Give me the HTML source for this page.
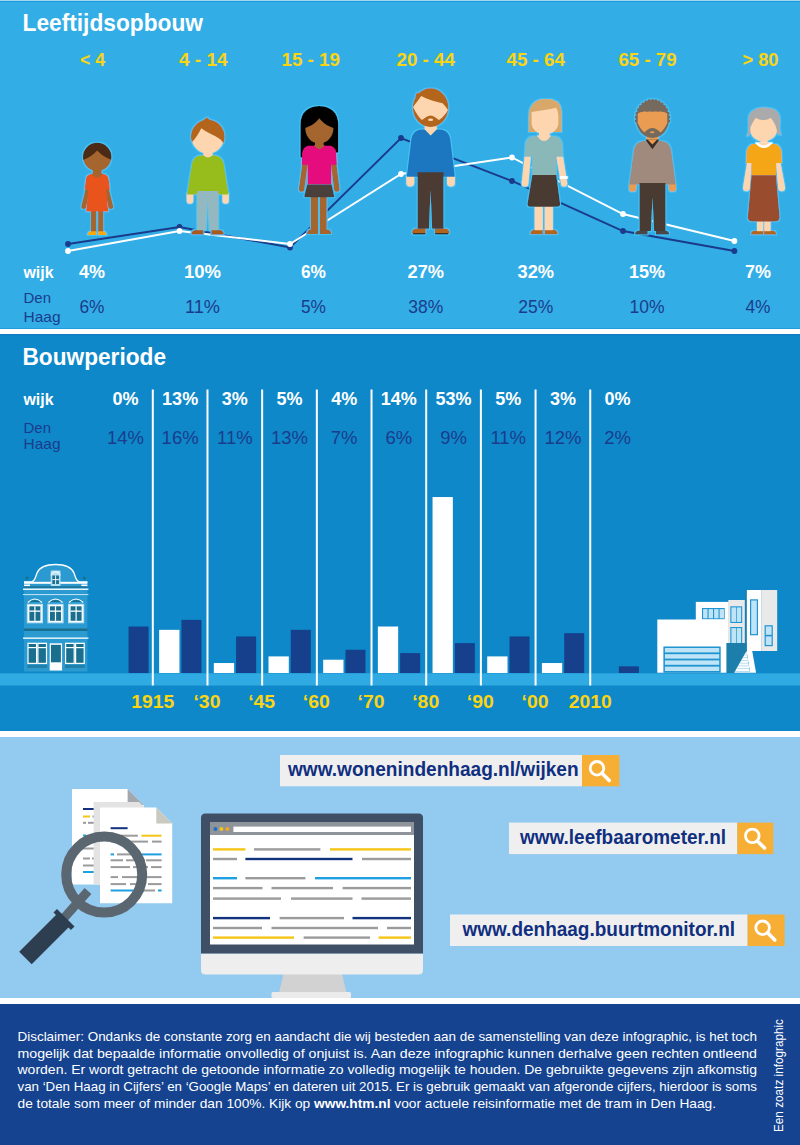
<!DOCTYPE html>
<html><head><meta charset="utf-8"><style>
html,body{margin:0;padding:0;background:#fff;}
body{width:800px;height:1145px;overflow:hidden;font-family:"Liberation Sans",sans-serif;}
svg{display:block;}
</style></head><body>
<svg width="800" height="1145" viewBox="0 0 800 1145">
<rect x="0" y="0" width="800" height="329" fill="#33ade6"/>
<rect x="0" y="0" width="800" height="1" fill="#9fd6f2"/>
<rect x="0" y="1" width="800" height="1" fill="#1d9bd8"/>
<rect x="0" y="328.2" width="800" height="1" fill="#1b9ad8"/>
<rect x="0" y="329" width="800" height="5.2" fill="#fff"/>
<rect x="0" y="334.2" width="800" height="397" fill="#0e88c9"/>
<rect x="0" y="334.2" width="800" height="1" fill="#0776bf"/>
<rect x="0" y="731" width="800" height="6" fill="#fff"/>
<rect x="0" y="737" width="800" height="261" fill="#93caf0"/>
<rect x="0" y="998" width="800" height="6" fill="#fff"/>
<rect x="0" y="1004" width="800" height="141" fill="#15438f"/>
<text x="22.5" y="30.6" font-size="23.5" fill="#fff" font-family="Liberation Sans, sans-serif" font-weight="bold" text-anchor="start" textLength="180.5" lengthAdjust="spacingAndGlyphs" >Leeftijdsopbouw</text>
<text x="80" y="66.2" font-size="18" fill="#fbd414" font-family="Liberation Sans, sans-serif" font-weight="bold" text-anchor="start" textLength="25" lengthAdjust="spacingAndGlyphs" >&lt; 4</text>
<text x="179" y="66.2" font-size="18" fill="#fbd414" font-family="Liberation Sans, sans-serif" font-weight="bold" text-anchor="start" textLength="48.5" lengthAdjust="spacingAndGlyphs" >4 - 14</text>
<text x="281.5" y="66.2" font-size="18" fill="#fbd414" font-family="Liberation Sans, sans-serif" font-weight="bold" text-anchor="start" textLength="58.5" lengthAdjust="spacingAndGlyphs" >15 - 19</text>
<text x="396.5" y="66.2" font-size="18" fill="#fbd414" font-family="Liberation Sans, sans-serif" font-weight="bold" text-anchor="start" textLength="58.5" lengthAdjust="spacingAndGlyphs" >20 - 44</text>
<text x="506.5" y="66.2" font-size="18" fill="#fbd414" font-family="Liberation Sans, sans-serif" font-weight="bold" text-anchor="start" textLength="58.5" lengthAdjust="spacingAndGlyphs" >45 - 64</text>
<text x="618.5" y="66.2" font-size="18" fill="#fbd414" font-family="Liberation Sans, sans-serif" font-weight="bold" text-anchor="start" textLength="58.0" lengthAdjust="spacingAndGlyphs" >65 - 79</text>
<text x="742.5" y="66.2" font-size="18" fill="#fbd414" font-family="Liberation Sans, sans-serif" font-weight="bold" text-anchor="start" textLength="36.0" lengthAdjust="spacingAndGlyphs" >&gt; 80</text>
<polyline points="68,244 179.5,227 290,247.5 401,138 512,181 623,231 734.4,251" fill="none" stroke="#1a3a8a" stroke-width="1.9"/>
<circle cx="68" cy="244" r="2.9" fill="#1a3a8a"/>
<circle cx="179.5" cy="227" r="2.9" fill="#1a3a8a"/>
<circle cx="290" cy="247.5" r="2.9" fill="#1a3a8a"/>
<circle cx="401" cy="138" r="2.9" fill="#1a3a8a"/>
<circle cx="512" cy="181" r="2.9" fill="#1a3a8a"/>
<circle cx="623" cy="231" r="2.9" fill="#1a3a8a"/>
<circle cx="734.4" cy="251" r="2.9" fill="#1a3a8a"/>
<polyline points="68,251 179.5,231 290,244 401,174 512,157.5 623,214 734.4,241" fill="none" stroke="#fff" stroke-width="1.9"/>
<circle cx="68" cy="251" r="2.9" fill="#fff"/>
<circle cx="179.5" cy="231" r="2.9" fill="#fff"/>
<circle cx="290" cy="244" r="2.9" fill="#fff"/>
<circle cx="401" cy="174" r="2.9" fill="#fff"/>
<circle cx="512" cy="157.5" r="2.9" fill="#fff"/>
<circle cx="623" cy="214" r="2.9" fill="#fff"/>
<circle cx="734.4" cy="241" r="2.9" fill="#fff"/>
<filter id="halo" x="-10%" y="-10%" width="120%" height="120%"><feMorphology in="SourceAlpha" operator="dilate" radius="1" result="d"/><feFlood flood-color="#42c2f5"/><feComposite in2="d" operator="in" result="h"/><feMerge><feMergeNode in="h"/><feMergeNode in="SourceGraphic"/></feMerge></filter>
<g id="people" filter="url(#halo)">
<rect x="90.9" y="208" width="5.40" height="24.00" rx="0" fill="#a4652d"/>
<rect x="98.1" y="208" width="5.20" height="24.00" rx="0" fill="#a4652d"/>
<path d="M96.3 231.2 L91.4 231.2 Q87.6 231.2 87.6 235 L96.3 235 Z" fill="#f6a80c"/>
<path d="M98.1 231.2 L102.69999999999999 231.2 Q106.5 231.2 106.5 235 L98.1 235 Z" fill="#f6a80c"/>
<path d="M85.5 189 L90 189 L86.2 206.5 A2.5 2.5 0 0 1 81.2 206.5 Z" fill="#a4652d"/>
<path d="M104.5 189 L109 189 L113.3 206.5 A2.5 2.5 0 0 1 108.3 206.5 Z" fill="#a4652d"/>
<rect x="92.8" y="166" width="8.80" height="12.00" rx="0" fill="#a4652d"/>
<path d="M84.6 189.4 L85.8 179.5 Q86.5 174 92 174 L102.5 174 Q108 174 108.7 179.5 L110 189.4 L106.2 189.4 L108.3 211.6 L86.1 211.6 L88.3 189.4 Z" fill="#e9531e"/>
<path d="M91.8 173.3 L102.6 173.3 L102.6 174 Q97.2 181 91.8 174 Z" fill="#a4652d"/>
<circle cx="97.2" cy="157" r="14.1" fill="#a4652d"/>
<clipPath id="hc1"><circle cx="97.2" cy="157" r="14.2"/></clipPath>
<path clip-path="url(#hc1)" d="M80 161 L80 140 L115 140 L115 161 Q104 158 97.2 150.5 Q90.5 158 80 161 Z" fill="#4b2a12"/>
<path d="M203.3 229.9 L196.0 229.9 Q191.4 229.9 191.4 234.5 L203.3 234.5 Z" fill="#a85a1e"/>
<path d="M211.3 229.9 L219.20000000000002 229.9 Q223.8 229.9 223.8 234.5 L211.3 234.5 Z" fill="#a85a1e"/>
<path d="M186.8 193 L193.2 193 L193.2 200.60000000000002 A3.1999999999999886 3.1999999999999886 0 0 1 186.8 200.60000000000002 Z" fill="#fdd5af"/>
<path d="M222.4 193 L228.8 193 L228.8 200.60000000000002 A3.200000000000003 3.200000000000003 0 0 1 222.4 200.60000000000002 Z" fill="#fdd5af"/>
<rect x="203.5" y="149" width="9.00" height="9.00" rx="0" fill="#fdd5af"/>
<path d="M187 194.4 L191.6 165.2 C192.4 158.7 197.1 155.2 201.6 155.2 L214.0 155.2 C218.5 155.2 223.2 158.7 224.0 165.2 L228.6 194.4 L218.5 194.4 L218.5 194.4 L218.5 194.4 L197 194.4 L197 194.4 Z" fill="#96bd1d"/>
<path d="M203.6 154.5 L212.4 154.5 L212.4 155.2 Q207.8 160 203.6 155.2 Z" fill="#fdd5af"/>
<path d="M197 191 L218.4 191 L218.4 230.2 L209.29999999999998 230.2 L207.7 198.4 L206.1 230.2 L197 230.2 Z" fill="#93b8bf"/>
<circle cx="207.8" cy="137.4" r="16" fill="#fdd5af"/>
<clipPath id="hc2"><circle cx="207.8" cy="136.6" r="16.9"/></clipPath>
<path clip-path="url(#hc2)" d="M188 143 L188 115 L228 115 L228 144 L223.4 143.5 C221 137 211 135.5 201.3 128.3 C199 133 196 138 191.8 142.3 Z" fill="#b4651e"/>
<path d="M202 121 L207 117.3 L210.5 120.5 Z" fill="#b4651e"/>
<path d="M300.4 157.5 L300.4 124.5 C300.4 112.5 308 106 319.3 106 C330.6 106 338.3 112.5 338.3 124.5 L338.3 152.5 Z" fill="#060505"/>
<rect x="310.8" y="196" width="7.30" height="36.00" rx="0" fill="#a4652d"/>
<rect x="320" y="196" width="6.70" height="36.00" rx="0" fill="#a4652d"/>
<path d="M318.1 229.6 L311.4 229.6 Q307 229.6 307 234 L318.1 234 Z" fill="#a4652d"/>
<path d="M320 229.6 L326.79999999999995 229.6 Q331.2 229.6 331.2 234 L320 234 Z" fill="#a4652d"/>
<path d="M302.2 164 L307.7 164 L304.4 188.9 A2.799999999999983 2.799999999999983 0 0 1 298.8 188.9 Z" fill="#a4652d"/>
<path d="M331 164 L336.5 164 L339.6 188.89999999999998 A2.8000000000000114 2.8000000000000114 0 0 1 334 188.89999999999998 Z" fill="#a4652d"/>
<rect x="315" y="139" width="8.60" height="9.00" rx="0" fill="#a4652d"/>
<path d="M301.6 164.8 L302.20000000000005 152.8 C303.00000000000006 148.25 306.05000000000007 145.8 309.20000000000005 145.8 L329.4 145.8 C332.54999999999995 145.8 335.59999999999997 148.25 336.4 152.8 L337 164.8 L331.4 164.8 L331.4 164.8 L331.4 164.8 L307.4 164.8 L307.4 164.8 Z" fill="#e5097e"/>
<rect x="307.4" y="163" width="24.00" height="21.60" rx="0" fill="#e5097e"/>
<path d="M314.2 145.1 L324.4 145.1 L324.4 145.8 Q319.3 152.5 314.2 145.8 Z" fill="#a4652d"/>
<path d="M307.2 184.4 L331.6 184.4 L334.2 196 Q334.4 197.3 333 197.3 L305.5 197.3 Q304 197.3 304.3 196 Z" fill="#4a3f3b"/>
<path d="M305.3 128 C312 126 316.5 122 319.3 118.3 C322.3 122 326.6 126 333.4 128 C333.4 137 327 143.4 319.3 143.4 C311.6 143.4 305.3 137 305.3 128 Z" fill="#a4652d"/>
<path d="M425.6 228.6 L416.8 228.6 Q411.8 228.6 411.8 233.6 L425.6 233.6 Z" fill="#b4651e"/>
<path d="M435 228.6 L444.5 228.6 Q449.5 228.6 449.5 233.6 L435 233.6 Z" fill="#b4651e"/>
<rect x="413" y="233" width="12.60" height="1.40" rx="0.5" fill="#3a302a"/>
<rect x="435" y="233" width="13.40" height="1.40" rx="0.5" fill="#3a302a"/>
<path d="M406.4 176 L414.2 176 L414.2 182.6 A3.9000000000000057 3.9000000000000057 0 0 1 406.4 182.6 Z" fill="#fdd5af"/>
<path d="M447 176 L454.9 176 L454.9 182.55 A3.9499999999999886 3.9499999999999886 0 0 1 447 182.55 Z" fill="#fdd5af"/>
<rect x="424.8" y="124" width="11.80" height="12.00" rx="0" fill="#fdd5af"/>
<path d="M406.8 176.8 L411.3 139.5 C412.1 133.0 416.8 129.5 421.3 129.5 L440.3 129.5 C444.8 129.5 449.5 133.0 450.3 139.5 L454.8 176.8 L443.5 176.8 L443.5 176.8 L443.5 176.8 L417.6 176.8 L417.6 176.8 Z" fill="#1e77c0"/>
<path d="M424.8 128.6 L436.6 128.6 L436.6 129.5 L430.6 135.6 L424.8 129.5 Z" fill="#fdd5af"/>
<path d="M417.6 172.3 L443.5 172.3 L443.5 228.8 L432.15000000000003 228.8 L430.55 190.3 L428.95 228.8 L417.6 228.8 Z" fill="#4b3b31"/>
<ellipse cx="430.6" cy="107.6" rx="17.8" ry="19.4" fill="#b4651e"/>
<clipPath id="hc3"><ellipse cx="430.6" cy="107.6" rx="17.8" ry="19.4"/></clipPath>
<path clip-path="url(#hc3)" d="M410 106.5 L413.1 107 C416 103 419 99 421.2 96 C428 99.5 436 102 442.5 103.2 C444.5 105 446.5 107.5 448 110 L452 110 L452 111 L448 110 C446 114 442 118 439 120.1 C436 118 433.5 115.5 430.6 115.4 C427.7 115.5 425 118 421.9 120.1 C418.5 117 415.5 112 413 107 Z" fill="#fdd5af"/>
<ellipse cx="430.6" cy="119.8" rx="2.6" ry="1.2" fill="#fdd5af"/>
<path d="M415 97 L417 92.5 L421 95 Z" fill="#b4651e"/>
<path d="M528.8 131.9 L528.8 116 C528.8 105 535.5 99 545 99 C552 99 556 100.5 558.5 103 C561 106 561.6 110 561.6 116 L561.6 131.9 Z" fill="#d8a86b"/>
<path d="M542.8 229.8 L534.9 229.8 Q530.4 229.8 530.4 234.3 L542.8 234.3 Z" fill="#b4651e"/>
<path d="M544.8 229.8 L553.2 229.8 Q557.7 229.8 557.7 234.3 L544.8 234.3 Z" fill="#b4651e"/>
<rect x="534.7" y="206" width="8.10" height="24.20" rx="0" fill="#fdd5af"/>
<rect x="544.8" y="206" width="8.10" height="24.20" rx="0" fill="#fdd5af"/>
<path d="M524.6 156.4 L530.8 156.4 L528.4 183.25000000000003 A3.349999999999966 3.349999999999966 0 0 1 521.7 183.25000000000003 Z" fill="#fdd5af"/>
<path d="M556.3 156.4 L563 156.4 L567.3 183.45000000000002 A3.1499999999999773 3.1499999999999773 0 0 1 561 183.45000000000002 Z" fill="#fdd5af"/>
<rect x="559.6" y="176" width="8.20" height="3.00" rx="1.3" fill="#ffffff"/>
<rect x="539" y="130" width="10.50" height="10.00" rx="0" fill="#fdd5af"/>
<path d="M524.6 156.4 L525.4 144.2 C526.1999999999999 139.0 529.8 136.2 533.4 136.2 L554.2 136.2 C557.8000000000001 136.2 561.4000000000001 139.0 562.2 144.2 L563 156.4 L556.3 156.4 L556.3 156.4 L556.3 156.4 L532.3 156.4 L532.3 156.4 Z" fill="#8ab8b9"/>
<rect x="532.3" y="155" width="24.00" height="20.80" rx="0" fill="#8ab8b9"/>
<path d="M537.5 135.5 L550.5 135.5 L550.5 136.2 Q544 146 537.5 136.2 Z" fill="#fdd5af"/>
<path d="M532.3 175.1 L556.3 175.1 L560.1 203.8 Q560.4 206.8 557 206.8 L530.6 206.8 Q527.2 206.8 527.5 203.8 Z" fill="#4a3a31"/>
<path d="M531.6 112 C540 111 549 109.5 556 107.8 C557.6 110 558.4 113 558.4 117 L558.4 123 C558.4 129.5 552.5 134 545 134 C537.5 134 531.6 129.5 531.6 123 Z" fill="#fdd5af"/>
<path d="M647.6 230.8 L638.8 230.8 Q635 230.8 635 234.6 L647.6 234.6 Z" fill="#48464a"/>
<path d="M656 230.8 L665.4000000000001 230.8 Q669.2 230.8 669.2 234.6 L656 234.6 Z" fill="#48464a"/>
<path d="M629 183.5 L636.2 183.5 L636.2 188.2 A3.6000000000000227 3.6000000000000227 0 0 1 629 188.2 Z" fill="#ea9c52"/>
<path d="M668.8 183.5 L676 183.5 L676 188.2 A3.6000000000000227 3.6000000000000227 0 0 1 668.8 188.2 Z" fill="#ea9c52"/>
<rect x="646.5" y="136" width="11.80" height="8.00" rx="0" fill="#ea9c52"/>
<path d="M629.2 184.4 L633.7 151 C634.5 144.5 639.2 141 643.7 141 L661.3 141 C665.8 141 670.5 144.5 671.3 151 L675.8 184.4 L665.4 184.4 L665.4 184.4 L665.4 184.4 L639.4 184.4 L639.4 184.4 Z" fill="#a08a7d"/>
<path d="M639.5 183 L665.5 183 L665.5 231 L654.1 231 L652.5 197.5 L650.9 231 L639.5 231 Z" fill="#4a3b32"/>
<path d="M645.3 139.6 L659.5 139.6 L652.4 149.2 Z" fill="#372d27"/>
<path d="M647.6 139.6 L657.2 139.6 L652.4 144.6 Z" fill="#ea9c52"/>
<ellipse cx="652.5" cy="119" rx="16.6" ry="19" fill="#76695d"/>
<circle cx="668.81" cy="120.97" r="1.5" fill="#76695d"/>
<circle cx="636.19" cy="120.97" r="1.5" fill="#76695d"/>
<circle cx="636.19" cy="117.03" r="1.5" fill="#76695d"/>
<circle cx="636.90" cy="113.19" r="1.5" fill="#76695d"/>
<circle cx="638.30" cy="109.60" r="1.5" fill="#76695d"/>
<circle cx="640.31" cy="106.42" r="1.5" fill="#76695d"/>
<circle cx="642.86" cy="103.79" r="1.5" fill="#76695d"/>
<circle cx="645.83" cy="101.83" r="1.5" fill="#76695d"/>
<circle cx="649.09" cy="100.61" r="1.5" fill="#76695d"/>
<circle cx="652.50" cy="100.20" r="1.5" fill="#76695d"/>
<circle cx="655.91" cy="100.61" r="1.5" fill="#76695d"/>
<circle cx="659.17" cy="101.83" r="1.5" fill="#76695d"/>
<circle cx="662.14" cy="103.79" r="1.5" fill="#76695d"/>
<circle cx="664.69" cy="106.42" r="1.5" fill="#76695d"/>
<circle cx="666.70" cy="109.60" r="1.5" fill="#76695d"/>
<circle cx="668.10" cy="113.19" r="1.5" fill="#76695d"/>
<circle cx="668.81" cy="117.03" r="1.5" fill="#76695d"/>
<clipPath id="hc4"><ellipse cx="652.5" cy="119" rx="16.6" ry="19"/></clipPath>
<path clip-path="url(#hc4)" d="M637.8 113.5 C640 111.5 643 112 645 111.2 C647 112.5 650 110.8 652.5 112 C655 110.8 658 112.5 660 111.2 C662 112 665 111.5 667.2 113.5 L667.3 123 C665.5 127 663.5 130 660.6 132.5 C658 130 655 128.1 652.3 128.1 C649.5 128.1 646.5 130 644.4 132.5 C641.5 130 639.5 127 637.7 123 Z" fill="#ea9c52"/>
<ellipse cx="652.3" cy="132.3" rx="2.3" ry="1" fill="#ea9c52"/>
<path d="M763.3 230.8 L754.6999999999999 230.8 Q750.9 230.8 750.9 234.6 L763.3 234.6 Z" fill="#b4651e"/>
<path d="M764.1 230.8 L772.4000000000001 230.8 Q776.2 230.8 776.2 234.6 L764.1 234.6 Z" fill="#b4651e"/>
<rect x="757" y="220" width="6.20" height="11.20" rx="0" fill="#fdd5af"/>
<rect x="764.3" y="220" width="6.20" height="11.20" rx="0" fill="#fdd5af"/>
<path d="M747 163 L751.5 163 L749.8 187.8 A3.3999999999999773 3.3999999999999773 0 0 1 743 187.8 Z" fill="#fdd5af"/>
<path d="M776 163 L780.5 163 L785.1 187.79999999999995 A3.400000000000034 3.400000000000034 0 0 1 778.3 187.79999999999995 Z" fill="#fdd5af"/>
<rect x="760.6" y="138" width="7.00" height="8.00" rx="0" fill="#fdd5af"/>
<path d="M746 163 L746.6 151.5 C747.4 146.625 750.725 144 754.1 144 L773.9 144 C777.275 144 780.6 146.625 781.4 151.5 L782 163 L776 163 L776 163 L776 163 L751.5 163 L751.5 163 Z" fill="#f5a618"/>
<rect x="751.5" y="161" width="24.50" height="14.60" rx="0" fill="#f5a618"/>
<path d="M755.2 142.5 L772.4 142.5 L772.4 143.2 Q764 153 755.2 143.2 Z" fill="#ffffff"/>
<path d="M758.6 142.5 L769 142.5 L769 143.2 Q764 148 758.6 143.2 Z" fill="#fdd5af"/>
<path d="M751.5 175.2 L776 175.2 L779.6 217 Q779.8 221.6 775 221.6 L752.4 221.6 Q747.6 221.6 747.8 217 Z" fill="#9a4e2d"/>
<path d="M746.6 136.3 C748.8 133.5 748.6 129 748.4 123 C748 116 750 112 753.5 110.5 C756 108.5 759 107.5 763.5 107.5 C769 107.5 774 108.5 777 111.5 C780.5 115 780.3 120 780 125 C779.8 129 780 132 781.3 134.8 C778.5 135.5 776.5 133 775.5 130 L751.5 130 C750.5 133.5 749 136.3 746.6 136.3 Z" fill="#aaaaaa"/>
<path d="M750.3 127.5 C752 124 754 120 756 117.8 C758 119.5 761 120.2 763.4 120 C766 120.2 768.5 119.5 770.6 117.8 C773.5 121 776 125.5 776.9 130.6 C776.5 136.5 771 141.3 763.6 141.3 C756 141.3 750.3 136 750.3 130 Z" fill="#fdd5af"/>
</g>
<text x="23.5" y="277.8" font-size="17" fill="#fff" font-family="Liberation Sans, sans-serif" font-weight="bold" text-anchor="start" textLength="30" lengthAdjust="spacingAndGlyphs" >wijk</text>
<text x="79" y="278" font-size="18.5" fill="#fff" font-family="Liberation Sans, sans-serif" font-weight="bold" text-anchor="start" textLength="26" lengthAdjust="spacingAndGlyphs" >4%</text>
<text x="184" y="278" font-size="18.5" fill="#fff" font-family="Liberation Sans, sans-serif" font-weight="bold" text-anchor="start" textLength="37" lengthAdjust="spacingAndGlyphs" >10%</text>
<text x="301" y="278" font-size="18.5" fill="#fff" font-family="Liberation Sans, sans-serif" font-weight="bold" text-anchor="start" textLength="25" lengthAdjust="spacingAndGlyphs" >6%</text>
<text x="407.5" y="278" font-size="18.5" fill="#fff" font-family="Liberation Sans, sans-serif" font-weight="bold" text-anchor="start" textLength="36.5" lengthAdjust="spacingAndGlyphs" >27%</text>
<text x="517.5" y="278" font-size="18.5" fill="#fff" font-family="Liberation Sans, sans-serif" font-weight="bold" text-anchor="start" textLength="36.5" lengthAdjust="spacingAndGlyphs" >32%</text>
<text x="629" y="278" font-size="18.5" fill="#fff" font-family="Liberation Sans, sans-serif" font-weight="bold" text-anchor="start" textLength="36" lengthAdjust="spacingAndGlyphs" >15%</text>
<text x="745" y="278" font-size="18.5" fill="#fff" font-family="Liberation Sans, sans-serif" font-weight="bold" text-anchor="start" textLength="26" lengthAdjust="spacingAndGlyphs" >7%</text>
<text x="23.5" y="303" font-size="15" fill="#1b3c8c" font-family="Liberation Sans, sans-serif" text-anchor="start" textLength="27.5" lengthAdjust="spacingAndGlyphs" >Den</text>
<text x="23.5" y="322" font-size="15" fill="#1b3c8c" font-family="Liberation Sans, sans-serif" text-anchor="start" textLength="37" lengthAdjust="spacingAndGlyphs" >Haag</text>
<text x="79.5" y="312.6" font-size="19" fill="#1b3c8c" font-family="Liberation Sans, sans-serif" text-anchor="start" textLength="25" lengthAdjust="spacingAndGlyphs" >6%</text>
<text x="185.0" y="312.6" font-size="19" fill="#1b3c8c" font-family="Liberation Sans, sans-serif" text-anchor="start" textLength="35" lengthAdjust="spacingAndGlyphs" >11%</text>
<text x="301.0" y="312.6" font-size="19" fill="#1b3c8c" font-family="Liberation Sans, sans-serif" text-anchor="start" textLength="25" lengthAdjust="spacingAndGlyphs" >5%</text>
<text x="408.25" y="312.6" font-size="19" fill="#1b3c8c" font-family="Liberation Sans, sans-serif" text-anchor="start" textLength="35" lengthAdjust="spacingAndGlyphs" >38%</text>
<text x="518.25" y="312.6" font-size="19" fill="#1b3c8c" font-family="Liberation Sans, sans-serif" text-anchor="start" textLength="35" lengthAdjust="spacingAndGlyphs" >25%</text>
<text x="629.5" y="312.6" font-size="19" fill="#1b3c8c" font-family="Liberation Sans, sans-serif" text-anchor="start" textLength="35" lengthAdjust="spacingAndGlyphs" >10%</text>
<text x="745.5" y="312.6" font-size="19" fill="#1b3c8c" font-family="Liberation Sans, sans-serif" text-anchor="start" textLength="25" lengthAdjust="spacingAndGlyphs" >4%</text>
<text x="22.5" y="365" font-size="23.5" fill="#fff" font-family="Liberation Sans, sans-serif" font-weight="bold" text-anchor="start" textLength="143.5" lengthAdjust="spacingAndGlyphs" >Bouwperiode</text>
<text x="23.5" y="405" font-size="17" fill="#fff" font-family="Liberation Sans, sans-serif" font-weight="bold" text-anchor="start" textLength="30" lengthAdjust="spacingAndGlyphs" >wijk</text>
<text x="23.5" y="433.25" font-size="15" fill="#1b3c8c" font-family="Liberation Sans, sans-serif" text-anchor="start" textLength="27.5" lengthAdjust="spacingAndGlyphs" >Den</text>
<text x="23.5" y="448.75" font-size="15" fill="#1b3c8c" font-family="Liberation Sans, sans-serif" text-anchor="start" textLength="37" lengthAdjust="spacingAndGlyphs" >Haag</text>
<text x="125.46000000000001" y="405" font-size="18" fill="#fff" font-family="Liberation Sans, sans-serif" font-weight="bold" text-anchor="middle" >0%</text>
<text x="125.46000000000001" y="444.25" font-size="18.5" fill="#1b3c8c" font-family="Liberation Sans, sans-serif" text-anchor="middle" >14%</text>
<rect x="128.56" y="626.52" width="20" height="46.48" fill="#163f8c"/>
<text x="180.14000000000001" y="405" font-size="18" fill="#fff" font-family="Liberation Sans, sans-serif" font-weight="bold" text-anchor="middle" >13%</text>
<text x="180.14000000000001" y="444.25" font-size="18.5" fill="#1b3c8c" font-family="Liberation Sans, sans-serif" text-anchor="middle" >16%</text>
<rect x="159.14" y="629.84" width="20.3" height="43.16" fill="#fff"/>
<rect x="181.44" y="619.88" width="20" height="53.12" fill="#163f8c"/>
<text x="234.82" y="405" font-size="18" fill="#fff" font-family="Liberation Sans, sans-serif" font-weight="bold" text-anchor="middle" >3%</text>
<text x="234.82" y="444.25" font-size="18.5" fill="#1b3c8c" font-family="Liberation Sans, sans-serif" text-anchor="middle" >11%</text>
<rect x="213.82" y="663.04" width="20.3" height="9.96" fill="#fff"/>
<rect x="236.12" y="636.48" width="20" height="36.52" fill="#163f8c"/>
<text x="289.5" y="405" font-size="18" fill="#fff" font-family="Liberation Sans, sans-serif" font-weight="bold" text-anchor="middle" >5%</text>
<text x="289.5" y="444.25" font-size="18.5" fill="#1b3c8c" font-family="Liberation Sans, sans-serif" text-anchor="middle" >13%</text>
<rect x="268.50" y="656.40" width="20.3" height="16.60" fill="#fff"/>
<rect x="290.80" y="629.84" width="20" height="43.16" fill="#163f8c"/>
<text x="344.18" y="405" font-size="18" fill="#fff" font-family="Liberation Sans, sans-serif" font-weight="bold" text-anchor="middle" >4%</text>
<text x="344.18" y="444.25" font-size="18.5" fill="#1b3c8c" font-family="Liberation Sans, sans-serif" text-anchor="middle" >7%</text>
<rect x="323.18" y="659.72" width="20.3" height="13.28" fill="#fff"/>
<rect x="345.48" y="649.76" width="20" height="23.24" fill="#163f8c"/>
<text x="398.86" y="405" font-size="18" fill="#fff" font-family="Liberation Sans, sans-serif" font-weight="bold" text-anchor="middle" >14%</text>
<text x="398.86" y="444.25" font-size="18.5" fill="#1b3c8c" font-family="Liberation Sans, sans-serif" text-anchor="middle" >6%</text>
<rect x="377.86" y="626.52" width="20.3" height="46.48" fill="#fff"/>
<rect x="400.16" y="653.08" width="20" height="19.92" fill="#163f8c"/>
<text x="453.53999999999996" y="405" font-size="18" fill="#fff" font-family="Liberation Sans, sans-serif" font-weight="bold" text-anchor="middle" >53%</text>
<text x="453.53999999999996" y="444.25" font-size="18.5" fill="#1b3c8c" font-family="Liberation Sans, sans-serif" text-anchor="middle" >9%</text>
<rect x="432.54" y="497.04" width="20.3" height="175.96" fill="#fff"/>
<rect x="454.84" y="643.12" width="20" height="29.88" fill="#163f8c"/>
<text x="508.22" y="405" font-size="18" fill="#fff" font-family="Liberation Sans, sans-serif" font-weight="bold" text-anchor="middle" >5%</text>
<text x="508.22" y="444.25" font-size="18.5" fill="#1b3c8c" font-family="Liberation Sans, sans-serif" text-anchor="middle" >11%</text>
<rect x="487.22" y="656.40" width="20.3" height="16.60" fill="#fff"/>
<rect x="509.52" y="636.48" width="20" height="36.52" fill="#163f8c"/>
<text x="562.9" y="405" font-size="18" fill="#fff" font-family="Liberation Sans, sans-serif" font-weight="bold" text-anchor="middle" >3%</text>
<text x="562.9" y="444.25" font-size="18.5" fill="#1b3c8c" font-family="Liberation Sans, sans-serif" text-anchor="middle" >12%</text>
<rect x="541.90" y="663.04" width="20.3" height="9.96" fill="#fff"/>
<rect x="564.20" y="633.16" width="20" height="39.84" fill="#163f8c"/>
<text x="617.58" y="405" font-size="18" fill="#fff" font-family="Liberation Sans, sans-serif" font-weight="bold" text-anchor="middle" >0%</text>
<text x="617.58" y="444.25" font-size="18.5" fill="#1b3c8c" font-family="Liberation Sans, sans-serif" text-anchor="middle" >2%</text>
<rect x="618.88" y="666.36" width="20" height="6.64" fill="#163f8c"/>
<rect x="0" y="673.3" width="800" height="12.2" fill="#30aae3"/>
<rect x="151.80" y="389.5" width="2" height="296" fill="#fff"/>
<rect x="206.48" y="389.5" width="2" height="296" fill="#fff"/>
<rect x="261.16" y="389.5" width="2" height="296" fill="#fff"/>
<rect x="315.84" y="389.5" width="2" height="296" fill="#fff"/>
<rect x="370.52" y="389.5" width="2" height="296" fill="#fff"/>
<rect x="425.20" y="389.5" width="2" height="296" fill="#fff"/>
<rect x="479.88" y="389.5" width="2" height="296" fill="#fff"/>
<rect x="534.56" y="389.5" width="2" height="296" fill="#fff"/>
<rect x="589.24" y="389.5" width="2" height="296" fill="#fff"/>
<text x="131.3" y="707.7" font-size="18" fill="#fbd414" font-family="Liberation Sans, sans-serif" font-weight="bold" text-anchor="start" textLength="43" lengthAdjust="spacingAndGlyphs" >1915</text>
<text x="193.48000000000002" y="707.7" font-size="18" fill="#fbd414" font-family="Liberation Sans, sans-serif" font-weight="bold" text-anchor="start" textLength="27" lengthAdjust="spacingAndGlyphs" >‘30</text>
<text x="248.16000000000003" y="707.7" font-size="18" fill="#fbd414" font-family="Liberation Sans, sans-serif" font-weight="bold" text-anchor="start" textLength="27" lengthAdjust="spacingAndGlyphs" >‘45</text>
<text x="302.84000000000003" y="707.7" font-size="18" fill="#fbd414" font-family="Liberation Sans, sans-serif" font-weight="bold" text-anchor="start" textLength="27" lengthAdjust="spacingAndGlyphs" >‘60</text>
<text x="357.52" y="707.7" font-size="18" fill="#fbd414" font-family="Liberation Sans, sans-serif" font-weight="bold" text-anchor="start" textLength="27" lengthAdjust="spacingAndGlyphs" >‘70</text>
<text x="412.2" y="707.7" font-size="18" fill="#fbd414" font-family="Liberation Sans, sans-serif" font-weight="bold" text-anchor="start" textLength="27" lengthAdjust="spacingAndGlyphs" >‘80</text>
<text x="466.88" y="707.7" font-size="18" fill="#fbd414" font-family="Liberation Sans, sans-serif" font-weight="bold" text-anchor="start" textLength="27" lengthAdjust="spacingAndGlyphs" >‘90</text>
<text x="521.56" y="707.7" font-size="18" fill="#fbd414" font-family="Liberation Sans, sans-serif" font-weight="bold" text-anchor="start" textLength="27" lengthAdjust="spacingAndGlyphs" >‘00</text>
<text x="568.74" y="707.7" font-size="18" fill="#fbd414" font-family="Liberation Sans, sans-serif" font-weight="bold" text-anchor="start" textLength="43" lengthAdjust="spacingAndGlyphs" >2010</text>
<g id="oldhouse">
<path d="M24 582 L31 582 C35 582 35.5 577 37 573 C40 566 47 564.5 55.6 564.5 C64 564.5 71 566 74 573 C75.5 577 76 582 80 582 L87.4 582 L87.4 671.6 L24 671.6 Z" fill="#2a9ad0"/>
<path d="M24 582 L31 582 C35 582 35.5 577 37 573 C40 566 47 564.5 55.6 564.5 C64 564.5 71 566 74 573 C75.5 577 76 582 80 582 L87.4 582" fill="none" stroke="#ffffff" stroke-width="1.3"/>
<circle cx="27" cy="578" r="1.6" fill="#1a6f8e"/><circle cx="84.3" cy="578" r="1.6" fill="#1a6f8e"/>
<rect x="24" y="581.8" width="63.4" height="2" fill="#ffffff"/>
<rect x="24" y="584.5" width="6" height="1.8" fill="#ffffff"/><rect x="81.4" y="584.5" width="6" height="1.8" fill="#ffffff"/>
<rect x="24" y="586.3" width="63.4" height="1.5" fill="#1a6f8e"/>
<rect x="23" y="588.6" width="65.4" height="1.3" fill="#ffffff"/>
<rect x="23" y="594" width="65.4" height="1.1" fill="#b8e0f5"/>
<rect x="50.7" y="570.5" width="9.8" height="15.5" rx="1" fill="#b8e0f5"/>
<path d="M50.7 575 Q55.6 568.5 60.5 575" fill="none" stroke="#ffffff" stroke-width="1"/>
<rect x="52.3" y="575.5" width="6.6" height="8.5" fill="#1a6f8e"/>
<rect x="55.2" y="575.5" width="0.9" height="8.5" fill="#ffffff"/><rect x="52.3" y="579.2" width="6.6" height="0.9" fill="#ffffff"/>
<path d="M27.8 602.5 Q34.9 595.5 42.0 602.5" fill="none" stroke="#ffffff" stroke-width="1.1"/>
<path d="M29.3 602 Q34.9 598 40.5 602 Z" fill="#1a6f8e"/>
<rect x="26.8" y="603.8" width="16.2" height="19.5" fill="#b8e0f5"/>
<rect x="28.1" y="605" width="13.6" height="17.1" fill="#ffffff"/>
<rect x="29.400000000000002" y="606.3" width="11.0" height="14.5" fill="#1a6f8e"/>
<rect x="34.3" y="606.3" width="1.2" height="14.5" fill="#ffffff"/>
<rect x="29.400000000000002" y="610.5" width="11.0" height="1.3" fill="#ffffff"/>
<path d="M48.4 602.5 Q55.5 595.5 62.599999999999994 602.5" fill="none" stroke="#ffffff" stroke-width="1.1"/>
<path d="M49.9 602 Q55.5 598 61.099999999999994 602 Z" fill="#1a6f8e"/>
<rect x="47.4" y="603.8" width="16.2" height="19.5" fill="#b8e0f5"/>
<rect x="48.699999999999996" y="605" width="13.6" height="17.1" fill="#ffffff"/>
<rect x="50.0" y="606.3" width="11.0" height="14.5" fill="#1a6f8e"/>
<rect x="54.9" y="606.3" width="1.2" height="14.5" fill="#ffffff"/>
<rect x="50.0" y="610.5" width="11.0" height="1.3" fill="#ffffff"/>
<path d="M69 602.5 Q76.1 595.5 83.2 602.5" fill="none" stroke="#ffffff" stroke-width="1.1"/>
<path d="M70.5 602 Q76.1 598 81.7 602 Z" fill="#1a6f8e"/>
<rect x="68" y="603.8" width="16.2" height="19.5" fill="#b8e0f5"/>
<rect x="69.3" y="605" width="13.6" height="17.1" fill="#ffffff"/>
<rect x="70.6" y="606.3" width="11.0" height="14.5" fill="#1a6f8e"/>
<rect x="75.5" y="606.3" width="1.2" height="14.5" fill="#ffffff"/>
<rect x="70.6" y="610.5" width="11.0" height="1.3" fill="#ffffff"/>
<rect x="24" y="628.5" width="63.4" height="2.5" fill="#1a6f8e"/>
<rect x="23" y="637.5" width="65.4" height="1.3" fill="#ffffff"/>
<rect x="27.4" y="642.7" width="9.8" height="21.3" fill="#ffffff"/>
<rect x="28.599999999999998" y="644" width="7.4" height="3" fill="#1a6f8e"/>
<rect x="28.599999999999998" y="648.2" width="7.4" height="14.6" fill="#1a6f8e"/>
<rect x="27.4" y="665" width="9.8" height="3" fill="#1a6f8e" opacity="0.6"/>
<rect x="37.3" y="642.7" width="9.8" height="21.3" fill="#ffffff"/>
<rect x="38.5" y="644" width="7.4" height="3" fill="#1a6f8e"/>
<rect x="38.5" y="648.2" width="7.4" height="14.6" fill="#1a6f8e"/>
<rect x="37.3" y="665" width="9.8" height="3" fill="#1a6f8e" opacity="0.6"/>
<rect x="65" y="642.7" width="9.8" height="21.3" fill="#ffffff"/>
<rect x="66.2" y="644" width="7.4" height="3" fill="#1a6f8e"/>
<rect x="66.2" y="648.2" width="7.4" height="14.6" fill="#1a6f8e"/>
<rect x="65" y="665" width="9.8" height="3" fill="#1a6f8e" opacity="0.6"/>
<rect x="75" y="642.7" width="9.8" height="21.3" fill="#ffffff"/>
<rect x="76.2" y="644" width="7.4" height="3" fill="#1a6f8e"/>
<rect x="76.2" y="648.2" width="7.4" height="14.6" fill="#1a6f8e"/>
<rect x="75" y="665" width="9.8" height="3" fill="#1a6f8e" opacity="0.6"/>
<rect x="49.7" y="643.3" width="12.4" height="27.2" fill="#ffffff"/>
<rect x="50.9" y="644.8" width="10" height="17.5" fill="#1a6f8e"/>
</g>
<g id="modern">
<rect x="746.6" y="590" width="15" height="61" fill="#ffffff"/>
<rect x="761.5" y="590" width="15.7" height="61" fill="#e9e9e9"/>
<path d="M745 590 L746.6 590 L746.6 651 L745 651 Z" fill="#1b7eab"/>
<rect x="750" y="599.3" width="8" height="36" fill="#1f95cf"/><rect x="751.2" y="600.5" width="5.6" height="33.6" fill="#bfe3f7"/>
<rect x="764.6" y="625.2" width="8.2" height="21" fill="#1f95cf"/><rect x="765.8" y="626.4" width="5.8" height="8.4" fill="#bfe3f7"/><rect x="765.8" y="636.4" width="5.8" height="8.6" fill="#bfe3f7"/>
<path d="M746.5 651 L752.2 651 L756.1 672.8 L750 672.8 Z" fill="#ffffff"/>
<rect x="695.8" y="601.9" width="33" height="42" fill="#ffffff"/>
<rect x="728.3" y="600" width="16.5" height="43" fill="#e9e9e9"/>
<rect x="702" y="608" width="22.7" height="11.4" fill="#1f95cf"/>
<rect x="703.10" y="609.1" width="4.4" height="9.2" fill="#bfe3f7"/>
<rect x="708.60" y="609.1" width="4.4" height="9.2" fill="#bfe3f7"/>
<rect x="714.10" y="609.1" width="4.4" height="9.2" fill="#bfe3f7"/>
<rect x="719.60" y="609.1" width="4.4" height="9.2" fill="#bfe3f7"/>
<rect x="730.3" y="606.3" width="11.9" height="16.7" fill="#1f95cf"/><rect x="731.4" y="607.4" width="4.6" height="14.5" fill="#bfe3f7"/><rect x="736.7" y="607.4" width="4.4" height="14.5" fill="#bfe3f7"/>
<rect x="730.3" y="627" width="11.9" height="16" fill="#1f95cf"/><rect x="731.4" y="628.1" width="4.6" height="14.9" fill="#bfe3f7"/><rect x="736.7" y="628.1" width="4.4" height="14.9" fill="#bfe3f7"/>
<path d="M726 643 L746.6 643 L746.5 651 L750 672.8 L726 672.8 Z" fill="#1b7eab"/>
<clipPath id="stc"><path d="M734.2 672.8 L746.5 651 L750 672.8 Z"/></clipPath>
<path d="M734.2 672.8 L746.5 651 L750 672.8 Z" fill="#ffffff"/>
<g clip-path="url(#stc)">
<rect x="730" y="654.50" width="22" height="0.8" fill="#a6d6ef"/>
<rect x="730" y="657.25" width="22" height="0.8" fill="#a6d6ef"/>
<rect x="730" y="660.00" width="22" height="0.8" fill="#a6d6ef"/>
<rect x="730" y="662.75" width="22" height="0.8" fill="#a6d6ef"/>
<rect x="730" y="665.50" width="22" height="0.8" fill="#a6d6ef"/>
<rect x="730" y="668.25" width="22" height="0.8" fill="#a6d6ef"/>
<rect x="730" y="671.00" width="22" height="0.8" fill="#a6d6ef"/>
</g>
<path d="M657.3 619.4 L724.5 619.4 Q726.4 619.4 726.4 621.4 L726.4 672.8 L657.3 672.8 Z" fill="#ffffff"/>
<rect x="663.4" y="646.5" width="57.3" height="26.3" fill="#1f95cf"/>
<rect x="664.9" y="648.00" width="54.3" height="4.4" fill="#bfe3f7"/>
<rect x="664.9" y="654.20" width="54.3" height="4.4" fill="#bfe3f7"/>
<rect x="664.9" y="660.40" width="54.3" height="4.4" fill="#bfe3f7"/>
<rect x="664.9" y="666.60" width="54.3" height="4.4" fill="#bfe3f7"/>
</g>
<path d="M72 789 L127.6 789 L143.6 805 L143.6 884.5 L72 884.5 Z" fill="#ffffff"/>
<path d="M127.6 789 L143.6 805 L127.6 805 Z" fill="#a3a8ae"/>
<rect x="83.0" y="808.00" width="15.5" height="2" fill="#12327e"/>
<rect x="83.0" y="815.50" width="7.0" height="2" fill="#f5c518"/>
<rect x="92.5" y="815.50" width="6.5" height="2" fill="#9b9b9b"/>
<rect x="83.0" y="821.80" width="3.0" height="2" fill="#9b9b9b"/>
<rect x="88.0" y="821.80" width="11.0" height="2" fill="#9b9b9b"/>
<rect x="83.0" y="834.50" width="3.0" height="2" fill="#1ea0e0"/>
<rect x="83.0" y="847.50" width="16.0" height="2" fill="#9b9b9b"/>
<rect x="83.0" y="857.50" width="7.0" height="2" fill="#9b9b9b"/>
<rect x="92.0" y="857.50" width="7.0" height="2" fill="#9b9b9b"/>
<rect x="83.0" y="864.50" width="15.0" height="2" fill="#9b9b9b"/>
<rect x="83.0" y="871.00" width="16.0" height="2" fill="#1ea0e0"/>
<path d="M93.6 802 L139 802 L144.6 807.6 L144.6 884.5 L93.6 884.5 Z" fill="#e3e3e3"/>
<path d="M100 807.6 L156.3 807.6 L172.2 823.5 L172.2 903.2 L100 903.2 Z" fill="#ffffff"/>
<path d="M156.3 807.6 L172.2 823.5 L156.3 823.5 Z" fill="#c9c9bf"/>
<rect x="110.6" y="827.20" width="17.0" height="2" fill="#12327e"/>
<rect x="121.2" y="834.70" width="16.6" height="2" fill="#9b9b9b"/>
<rect x="141.4" y="834.70" width="20.2" height="2" fill="#f5c518"/>
<rect x="110.6" y="840.60" width="5.4" height="2" fill="#9b9b9b"/>
<rect x="118.5" y="840.60" width="29.5" height="2" fill="#9b9b9b"/>
<rect x="152.0" y="840.60" width="9.6" height="2" fill="#9b9b9b"/>
<rect x="110.6" y="853.40" width="3.4" height="2" fill="#1ea0e0"/>
<rect x="117.0" y="853.40" width="23.0" height="2" fill="#9b9b9b"/>
<rect x="141.4" y="853.40" width="20.2" height="2" fill="#1ea0e0"/>
<rect x="110.6" y="859.30" width="12.4" height="2" fill="#9b9b9b"/>
<rect x="126.0" y="859.30" width="19.0" height="2" fill="#9b9b9b"/>
<rect x="146.0" y="859.30" width="15.6" height="2" fill="#9b9b9b"/>
<rect x="110.6" y="866.10" width="19.4" height="2" fill="#9b9b9b"/>
<rect x="133.0" y="866.10" width="15.0" height="2" fill="#9b9b9b"/>
<rect x="151.0" y="866.10" width="10.6" height="2" fill="#9b9b9b"/>
<rect x="110.6" y="876.10" width="7.4" height="2" fill="#9b9b9b"/>
<rect x="122.0" y="876.10" width="39.6" height="2" fill="#9b9b9b"/>
<rect x="110.6" y="883.10" width="15.4" height="2" fill="#9b9b9b"/>
<rect x="130.0" y="883.10" width="15.0" height="2" fill="#9b9b9b"/>
<rect x="148.0" y="883.10" width="13.6" height="2" fill="#9b9b9b"/>
<rect x="110.6" y="889.50" width="22.4" height="2" fill="#1ea0e0"/>
<rect x="134.0" y="889.50" width="21.0" height="2" fill="#9b9b9b"/>
<rect x="158.0" y="889.50" width="3.6" height="2" fill="#1ea0e0"/>
<line x1="88" y1="891" x2="64" y2="918" stroke="#5b6770" stroke-width="9"/>
<g transform="translate(65.75,917.75) rotate(135)">
<rect x="0" y="-12.35" width="5" height="24.7" fill="#2c3e50"/>
<rect x="4" y="-8.85" width="53" height="17.7" fill="#2c3e50"/>
</g>
<circle cx="104.2" cy="874.6" r="38" fill="none" stroke="#5b6770" stroke-width="10"/>
<path d="M283.5 974 L342 974 L346.5 993 L279 993 Z" fill="#d2d2d2"/>
<rect x="271.5" y="992" width="79.5" height="6" rx="1.5" fill="#ebebeb"/>
<path d="M201 953.5 L423 953.5 L423 970 Q423 974.5 418.5 974.5 L205.5 974.5 Q201 974.5 201 970 Z" fill="#eeeeee"/>
<path d="M201 953.5 L201 818 Q201 813.4 205.5 813.4 L418.5 813.4 Q423 813.4 423 818 L423 953.5 Z" fill="#3e4f66"/>
<rect x="210" y="822" width="204" height="122.5" fill="#ffffff"/>
<rect x="210" y="822" width="204" height="13" fill="#8f949b"/>
<circle cx="215.4" cy="829" r="2" fill="#1a73c9"/><circle cx="221.4" cy="829" r="2" fill="#f5c518"/><circle cx="227.4" cy="829" r="2" fill="#f5a623"/>
<rect x="233.4" y="826.6" width="177.6" height="5.4" fill="#ffffff"/>
<rect x="213.0" y="848.20" width="32.4" height="2.4" fill="#f5c518"/>
<rect x="254.0" y="848.20" width="66.4" height="2.4" fill="#9b9b9b"/>
<rect x="330.0" y="848.20" width="81.0" height="2.4" fill="#f5c518"/>
<rect x="213.0" y="857.80" width="24.0" height="2.4" fill="#9b9b9b"/>
<rect x="245.4" y="857.80" width="107.1" height="2.4" fill="#12327e"/>
<rect x="362.0" y="857.80" width="49.0" height="2.4" fill="#9b9b9b"/>
<rect x="213.0" y="877.00" width="24.0" height="2.4" fill="#1ea0e0"/>
<rect x="245.4" y="877.00" width="60.0" height="2.4" fill="#9b9b9b"/>
<rect x="315.0" y="877.00" width="96.0" height="2.4" fill="#1ea0e0"/>
<rect x="213.0" y="886.90" width="49.5" height="2.4" fill="#9b9b9b"/>
<rect x="271.5" y="886.90" width="61.5" height="2.4" fill="#9b9b9b"/>
<rect x="342.6" y="886.90" width="68.4" height="2.4" fill="#9b9b9b"/>
<rect x="213.0" y="897.40" width="68.0" height="2.4" fill="#9b9b9b"/>
<rect x="291.0" y="897.40" width="61.5" height="2.4" fill="#9b9b9b"/>
<rect x="361.5" y="897.40" width="49.5" height="2.4" fill="#9b9b9b"/>
<rect x="213.0" y="916.90" width="57.0" height="2.4" fill="#12327e"/>
<rect x="279.6" y="916.90" width="64.4" height="2.4" fill="#9b9b9b"/>
<rect x="352.5" y="916.90" width="58.5" height="2.4" fill="#12327e"/>
<rect x="213.0" y="926.80" width="49.0" height="2.4" fill="#9b9b9b"/>
<rect x="271.5" y="926.80" width="106.5" height="2.4" fill="#9b9b9b"/>
<rect x="387.0" y="926.80" width="24.0" height="2.4" fill="#9b9b9b"/>
<rect x="213.0" y="936.40" width="81.0" height="2.4" fill="#f5c518"/>
<rect x="303.6" y="936.40" width="66.4" height="2.4" fill="#9b9b9b"/>
<rect x="378.6" y="936.40" width="32.4" height="2.4" fill="#f5c518"/>
<rect x="280" y="755" width="302" height="31.299999999999955" fill="#efefef"/>
<rect x="582" y="755" width="37.39999999999998" height="31.299999999999955" fill="#f6ae35"/>
<circle cx="597" cy="768.3" r="6.8" fill="none" stroke="#fff" stroke-width="2.8"/>
<line x1="602" y1="773.3" x2="609.2" y2="780.5" stroke="#fff" stroke-width="3.6" stroke-linecap="round"/>
<text x="288" y="776.3" font-size="20" fill="#112f80" font-family="Liberation Sans, sans-serif" font-weight="bold" text-anchor="start" textLength="290.6" lengthAdjust="spacingAndGlyphs" >www.wonenindenhaag.nl/wijken</text>
<rect x="509" y="822.6" width="228.29999999999995" height="31.5" fill="#efefef"/>
<rect x="737.3" y="822.6" width="36.0" height="31.5" fill="#f6ae35"/>
<circle cx="752.3" cy="835.9" r="6.8" fill="none" stroke="#fff" stroke-width="2.8"/>
<line x1="757.3" y1="840.9" x2="764.5" y2="848.1" stroke="#fff" stroke-width="3.6" stroke-linecap="round"/>
<text x="520" y="843.9" font-size="20" fill="#112f80" font-family="Liberation Sans, sans-serif" font-weight="bold" text-anchor="start" textLength="206" lengthAdjust="spacingAndGlyphs" >www.leefbaarometer.nl</text>
<rect x="450" y="914.5" width="297.6" height="31.5" fill="#efefef"/>
<rect x="747.6" y="914.5" width="37.0" height="31.5" fill="#f6ae35"/>
<circle cx="762.6" cy="927.8" r="6.8" fill="none" stroke="#fff" stroke-width="2.8"/>
<line x1="767.6" y1="932.8" x2="774.8000000000001" y2="940.0" stroke="#fff" stroke-width="3.6" stroke-linecap="round"/>
<text x="462.5" y="935.8" font-size="20" fill="#112f80" font-family="Liberation Sans, sans-serif" font-weight="bold" text-anchor="start" textLength="272.5" lengthAdjust="spacingAndGlyphs" >www.denhaag.buurtmonitor.nl</text>
<text x="17.5" y="1041.0" font-size="13" fill="#fff" font-family="Liberation Sans, sans-serif" text-anchor="start" textLength="739.5" lengthAdjust="spacingAndGlyphs" >Disclaimer: Ondanks de constante zorg en aandacht die wij besteden aan de samenstelling van deze infographic, is het toch</text>
<text x="17.5" y="1057.63" font-size="13" fill="#fff" font-family="Liberation Sans, sans-serif" text-anchor="start" textLength="739.5" lengthAdjust="spacingAndGlyphs" >mogelijk dat bepaalde informatie onvolledig of onjuist is. Aan deze infographic kunnen derhalve geen rechten ontleend</text>
<text x="17.5" y="1074.26" font-size="13" fill="#fff" font-family="Liberation Sans, sans-serif" text-anchor="start" textLength="739.5" lengthAdjust="spacingAndGlyphs" >worden. Er wordt getracht de getoonde informatie zo volledig mogelijk te houden. De gebruikte gegevens zijn afkomstig</text>
<text x="17.5" y="1090.89" font-size="13" fill="#fff" font-family="Liberation Sans, sans-serif" text-anchor="start" textLength="739.5" lengthAdjust="spacingAndGlyphs" >van ‘Den Haag in Cijfers’ en ‘Google Maps’ en dateren uit 2015. Er is gebruik gemaakt van afgeronde cijfers, hierdoor is soms</text>
<text x="17.5" y="1107.52" font-size="13" fill="#fff" font-family="Liberation Sans, sans-serif" textLength="698.5" lengthAdjust="spacingAndGlyphs">de totale som meer of minder dan 100%. Kijk op <tspan font-weight="bold">www.htm.nl</tspan> voor actuele reisinformatie met de tram in Den Haag.</text>
<text transform="translate(782.6,1132) rotate(-90)" x="0" y="0" font-size="12.5" fill="#fff" font-family="Liberation Sans, sans-serif" textLength="113" lengthAdjust="spacingAndGlyphs">Een zoatz infographic</text>
</svg>
</body></html>
